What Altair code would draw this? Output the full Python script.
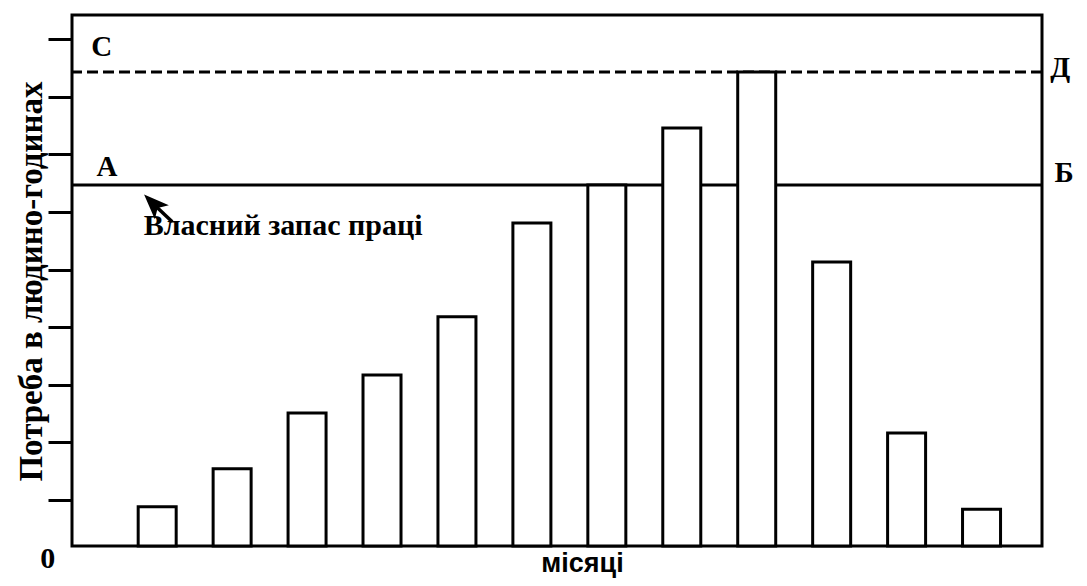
import altair as alt
import pandas as pd

# ---- data ----
months = list(range(1, 13))
demand = [0.68, 1.34, 2.31, 2.97, 3.98, 5.61, 6.27, 7.26, 8.23, 4.93, 1.96, 0.64]
own_labour_level = [6.27]      # line А–Б
peak_level = [8.23]            # dashed line С–Д
tick_values = [0.8, 1.8, 2.8, 3.8, 4.8, 5.8, 6.8, 7.8, 8.8]

corner_text = ["С", "А", "Д", "Б"]
corner_x = [0.26, 0.33, 13.05, 13.10]
corner_y = [8.66, 6.58, 8.30, 6.48]

note_text = ["Власний запас праці"]
note_x = [0.82]
note_y = [5.40]

arrow_tail = [1.20, 5.63]
arrow_head = [0.95, 5.94]

origin_text = ["0"]
origin_x = [-0.46]
origin_y = [-0.22]

X_DOMAIN = [-0.07, 12.74]
Y_DOMAIN = [0, 9.22]

xs = alt.Scale(domain=X_DOMAIN, nice=False, zero=False)
ys = alt.Scale(domain=Y_DOMAIN, nice=False, zero=False)

bars_df = pd.DataFrame({"month": months, "demand": demand})
corner_df = pd.DataFrame({"t": corner_text, "x": corner_x, "y": corner_y})
note_df = pd.DataFrame({"t": note_text, "x": note_x, "y": note_y})
origin_df = pd.DataFrame({"t": origin_text, "x": origin_x, "y": origin_y})
arrow_df = pd.DataFrame({"x": [arrow_tail[0]], "y": [arrow_tail[1]],
                         "x2": [arrow_head[0]], "y2": [arrow_head[1]]})
head_df = pd.DataFrame({"x": [arrow_head[0]], "y": [arrow_head[1]]})

bars = alt.Chart(bars_df).mark_bar(
    size=38, fill="white", stroke="black", strokeWidth=3
).encode(
    x=alt.X("month:Q", scale=xs,
            axis=alt.Axis(domain=False, ticks=False, labels=False, grid=False,
                          title="місяці", titleFont="Liberation Sans",
                          titleFontSize=27, titleFontWeight="bold",
                          titleColor="#000000", titleX=510, titleY=25,
                          titleAlign="center", titleBaseline="alphabetic")),
    y=alt.Y("demand:Q", scale=ys,
            axis=alt.Axis(values=tick_values, labels=False, tickSize=24,
                          tickWidth=3, tickColor="black", domain=False,
                          grid=False, title="Потреба в людино-годинах",
                          titleFont="Liberation Serif", titleFontSize=33,
                          titleFontWeight="bold", titleColor="#000000",
                          titleX=-41, titleY=266, titleAngle=270,
                          titleAlign="center", titleBaseline="middle")),
)

line_ab = alt.Chart(pd.DataFrame({"y": own_labour_level})).mark_rule(
    color="black", strokeWidth=3
).encode(y=alt.Y("y:Q", scale=ys))

line_cd = alt.Chart(pd.DataFrame({"y": peak_level})).mark_rule(
    color="black", strokeWidth=3, strokeDash=[11, 5]
).encode(y=alt.Y("y:Q", scale=ys))

corners = alt.Chart(corner_df).mark_text(
    font="Liberation Serif", fontSize=29, fontWeight="bold", color="black",
    align="center", baseline="middle"
).encode(x=alt.X("x:Q", scale=xs), y=alt.Y("y:Q", scale=ys), text="t:N")

note = alt.Chart(note_df).mark_text(
    font="Liberation Serif", fontSize=30, fontWeight="bold", color="black",
    align="left", baseline="alphabetic"
).encode(x=alt.X("x:Q", scale=xs), y=alt.Y("y:Q", scale=ys), text="t:N")

origin = alt.Chart(origin_df).mark_text(
    font="Liberation Serif", fontSize=30, fontWeight="bold", color="black",
    align="center", baseline="middle"
).encode(x=alt.X("x:Q", scale=xs), y=alt.Y("y:Q", scale=ys), text="t:N")

arrow_line = alt.Chart(arrow_df).mark_rule(color="black", strokeWidth=3.5).encode(
    x=alt.X("x:Q", scale=xs), y=alt.Y("y:Q", scale=ys), x2="x2:Q", y2="y2:Q"
)

arrow_tip = alt.Chart(head_df).mark_point(
    shape="M0,-1L0.75,0.9L0,0.45L-0.75,0.9Z", size=700, filled=True,
    color="black", opacity=1, angle=315
).encode(x=alt.X("x:Q", scale=xs), y=alt.Y("y:Q", scale=ys))

chart = alt.layer(
    line_cd, line_ab, bars, corners, note, origin, arrow_line, arrow_tip
).properties(
    width=970, height=531,
    autosize=alt.AutoSizeParams(type="none"),
    padding={"left": 64, "top": 7, "right": 37, "bottom": 32},
    background="white",
).configure_view(stroke="black", strokeWidth=3)

chart.save("out.html", embed_options={"renderer": "svg", "actions": False})
